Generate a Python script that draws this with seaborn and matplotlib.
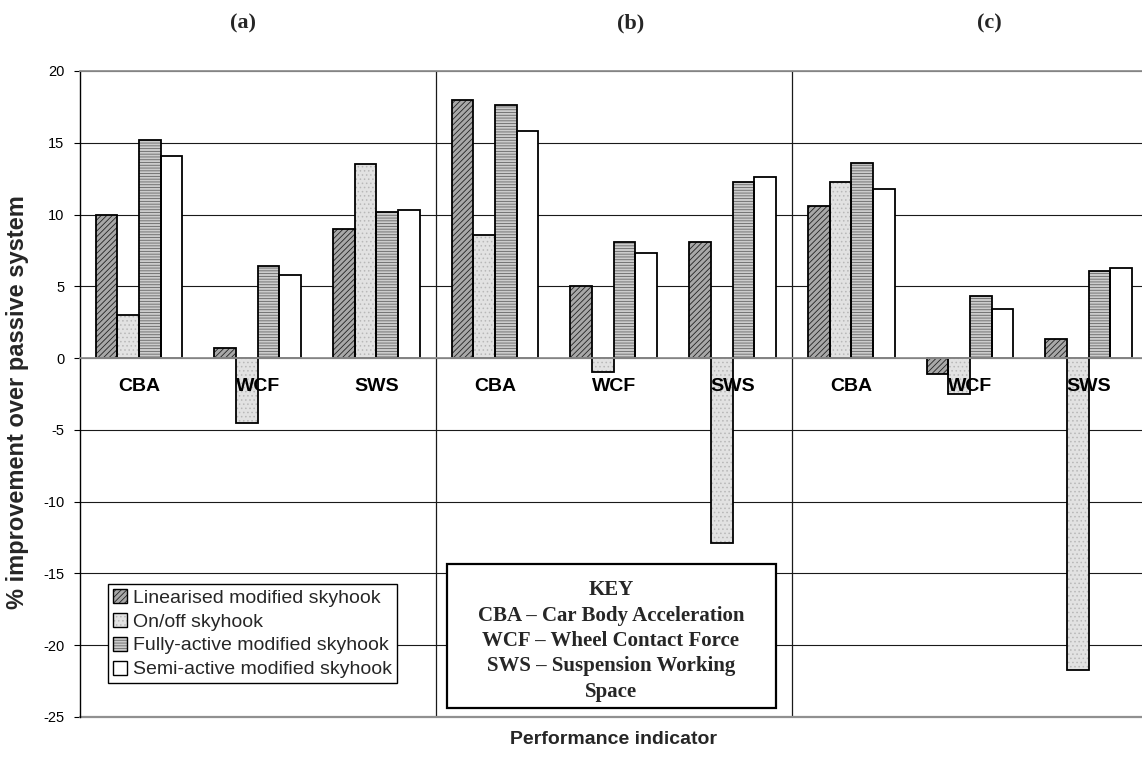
import numpy as np
import pandas as pd
import matplotlib
matplotlib.use("Agg")
import matplotlib.pyplot as plt
import matplotlib.transforms as mtransforms
from matplotlib.patches import Rectangle, Patch
from matplotlib.legend_handler import HandlerTuple
import seaborn as sns

# ---------------- data ----------------
panels = ["(a)", "(b)", "(c)"]
indicators = ["CBA", "WCF", "SWS"]
series_names = ["Linearised modified skyhook", "On/off skyhook",
                "Fully-active modified skyhook", "Semi-active modified skyhook"]
linearised = [10.0, 0.7, 9.0, 18.0, 5.0, 8.1, 10.6, -1.1, 1.3]
onoff = [3.0, -4.5, 13.5, 8.6, -1.0, -12.9, 12.3, -2.5, -21.7]
fully = [15.2, 6.4, 10.2, 17.6, 8.1, 12.3, 13.6, 4.3, 6.1]
semi = [14.1, 5.8, 10.3, 15.8, 7.3, 12.6, 11.8, 3.4, 6.3]
yticks = [20, 15, 10, 5, 0, -5, -10, -15, -20, -25]
y_label = "% improvement over passive system"
x_label = "Performance indicator"
key_lines = ["KEY", "CBA \u2013 Car Body Acceleration", "WCF \u2013 Wheel Contact Force",
             "SWS \u2013 Suspension Working", "Space"]

keys = [f"{p} {ind}" for p in panels for ind in indicators]
tick_labels = [ind for p in panels for ind in indicators]
rows = []
for name, vals in zip(series_names, [linearised, onoff, fully, semi]):
    for k, v in zip(keys, vals):
        rows.append({"key": k, "series": name, "value": v})
df = pd.DataFrame(rows)

# ---------------- style ----------------
sns.set_theme(style="white")
plt.rcParams["font.family"] = ["Liberation Sans", "DejaVu Sans"]
plt.rcParams["hatch.linewidth"] = 0.6

styles = {
    "Linearised modified skyhook": dict(fc="#a8a8a8", hatch="//////", hc="#222222"),
    "On/off skyhook": dict(fc="#e2e2e2", hatch="....", hc="#b8b8b8"),
    "Fully-active modified skyhook": dict(fc="#cccccc", hatch="------", hc="#666666"),
    "Semi-active modified skyhook": dict(fc="#ffffff", hatch="", hc="#ffffff"),
}
palette = {n: styles[n]["fc"] for n in series_names}

W, H = 1142, 763
fig = plt.figure(figsize=(W / 100, H / 100), dpi=100)
ax_left, ax_right, ax_top, ax_bot = 79.6, 1148.0, 71.0, 717.0
ax = fig.add_axes([ax_left / W, 1 - ax_bot / H, (ax_right - ax_left) / W, (ax_bot - ax_top) / H])

sns.barplot(data=df, x="key", y="value", hue="series", order=keys, hue_order=series_names,
            palette=palette, saturation=1, width=0.73, errorbar=None, legend=False, ax=ax)

for name, cont in zip(series_names, ax.containers):
    st = styles[name]
    for bar in cont:
        bar.set_facecolor(st["fc"])
        bar.set_hatch(st["hatch"])
        bar.set_edgecolor(st["hc"])
        bar.set_linewidth(0)
        ax.add_patch(Rectangle(bar.get_xy(), bar.get_width(), bar.get_height(),
                               fill=False, ec="black", lw=1.3, zorder=bar.get_zorder() + 0.1))

ax.set_xlim(-0.5, len(keys) - 0.5)
ax.set_ylim(-25, 20)

ax.set_axisbelow(True)
ax.spines["bottom"].set_position(("data", 0))
ax.spines["bottom"].set_color("#909090")
ax.spines["bottom"].set_linewidth(1.3)
ax.spines["top"].set_color("#909090")
ax.spines["top"].set_linewidth(1.3)
ax.spines["right"].set_visible(False)
ax.spines["left"].set_color("black")
ax.spines["left"].set_linewidth(1.0)
ax.axhline(-25, color="#909090", lw=1.6, clip_on=False, zorder=0.9)

ax.set_yticks(yticks)
ax.set_yticklabels([str(t) for t in yticks])
ax.set_xticks(range(len(keys)))
ax.yaxis.grid(True, color="#1a1a1a", lw=0.8)
ax.xaxis.grid(False)
ax.tick_params(axis="x", length=0, labelbottom=False)
ax.tick_params(axis="y", direction="out", length=4, width=0.8, pad=7, labelsize=10.5,
               left=True, colors="black")

# category labels just below the zero line, drawn above the bars
lab_tr = mtransforms.offset_copy(ax.transData, fig=fig, x=0, y=-28, units="dots")
for i, lab in enumerate(tick_labels):
    ax.text(i, 0, lab, transform=lab_tr, ha="center", va="center", fontsize=14,
            fontweight="bold", color="black", zorder=5)

for xs in [2.5, 5.5]:
    ax.axvline(xs, color="#1a1a1a", lw=0.9, zorder=0.7)

ax.set_ylabel(y_label, fontsize=17, fontweight="bold")
ax.yaxis.set_label_coords(-0.047, 0.488)
ax.set_xlabel(x_label, fontsize=14, fontweight="bold")
ax.xaxis.set_label_coords(0.5, -0.022)

# legend
handles = []
for n in series_names:
    st = styles[n]
    h1 = Patch(facecolor=st["fc"], hatch=st["hatch"], edgecolor=st["hc"], lw=0)
    h2 = Patch(facecolor="none", edgecolor="black", lw=1.0)
    handles.append((h1, h2))
leg = ax.legend(handles, series_names, handler_map={tuple: HandlerTuple(ndivide=1, pad=0)},
                loc="upper left", bbox_to_anchor=(108 / W, 1 - 584 / H),
                bbox_transform=fig.transFigure, frameon=True, fancybox=False,
                edgecolor="black", framealpha=1, fontsize=14, handlelength=0.72,
                handleheight=0.72, handletextpad=0.3, borderpad=0.25, labelspacing=0.32,
                borderaxespad=0)
leg.get_frame().set_linewidth(1.0)
leg.set_zorder(6)

# key box
key_box = Rectangle((446.7 / W, 1 - 708 / H), 329.3 / W, 144 / H, transform=fig.transFigure,
                    fc="white", ec="black", lw=1.6, zorder=4)
fig.add_artist(key_box)
fig.text(611 / W, 1 - 641 / H, "\n".join(key_lines), ha="center", va="center",
         family=["Liberation Serif", "DejaVu Serif"], fontweight="bold", fontsize=15,
         linespacing=1.36, zorder=5)

# panel labels
blend = mtransforms.blended_transform_factory(ax.transData, fig.transFigure)
for lab, xd in zip(panels, [0.88, 4.14, 7.16]):
    fig.text(xd, 1 - 23 / H, lab, transform=blend, ha="center", va="center",
             family=["Liberation Serif", "DejaVu Serif"], fontweight="bold", fontsize=16)

fig.savefig("out.png", dpi=100, facecolor="white")
